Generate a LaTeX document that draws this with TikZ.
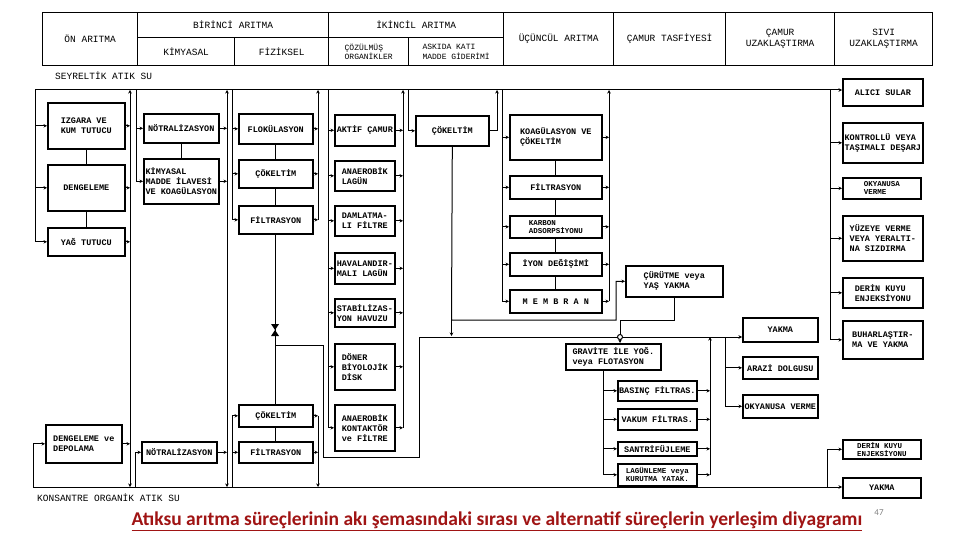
\documentclass[tikz,border=0pt]{standalone}
\usepackage{fontspec}
\setmonofont{Liberation Mono}
\newfontfamily\capfont{Carlito}
\usetikzlibrary{arrows.meta}
\definecolor{capred}{RGB}{160,20,20}
\tikzset{
 bxs/.style={draw, line width=1.6pt, inner sep=1pt, font=\ttfamily\bfseries\fontsize{8.5}{10}\selectfont, align=left},
 sm/.style={font=\ttfamily\bfseries\fontsize{7.5}{8.3}\selectfont},
 hcell/.style={line width=1.3pt, font=\ttfamily\fontsize{9.5}{11}\selectfont, align=center},
 hsub/.style={line width=1.3pt, font=\ttfamily\fontsize{8}{9.5}\selectfont, align=left},
 ln/.style={line width=1pt},
 arr/.style={ln, -{Stealth[length=3.5pt,width=3.5pt]}},
 darr/.style={ln, {Stealth[length=3.5pt,width=3.5pt]}-{Stealth[length=3.5pt,width=3.5pt]}},
 lbl/.style={font=\ttfamily\fontsize{9.5}{11}\selectfont, anchor=west, inner sep=0pt},
}
\newcommand\bx[7][]{\node[bxs,#1,minimum width={#5-#3},minimum height={#6-#4},anchor=north west] (#2) at (#3,#4) {#7};}
\begin{document}
\begin{tikzpicture}[x=1pt,y=-1pt]
\useasboundingbox[fill=white] (0,0) rectangle (960,540);
% ---------- header ----------
\bx[hcell]{h1}{42}{12}{137}{65}{ÖN ARITMA}
\bx[hcell]{h2}{137}{12}{328}{37}{BİRİNCİ ARITMA}
\bx[hcell]{h2a}{137}{37}{234}{65}{KİMYASAL}
\bx[hcell]{h2b}{234}{37}{328}{65}{FİZİKSEL}
\bx[hcell]{h3}{328}{12}{503}{37}{İKİNCİL ARITMA}
\bx[hsub]{h3a}{328}{37}{408}{65}{ÇÖZÜLMÜŞ\\ORGANİKLER}
\bx[hsub]{h3b}{408}{37}{503}{65}{ASKIDA KATI\\MADDE GİDERİMİ}
\bx[hcell]{h4}{503}{12}{613}{65}{ÜÇÜNCÜL ARITMA}
\bx[hcell]{h5}{613}{12}{725}{65}{ÇAMUR TASFİYESİ}
\bx[hcell]{h6}{725}{12}{834}{65}{ÇAMUR\\UZAKLAŞTIRMA}
\bx[hcell]{h7}{834}{12}{932}{65}{SIVI\\UZAKLAŞTIRMA}
\node[lbl] (seyr) at (55,76) {SEYRELTİK ATIK SU};
\node[lbl] (kons) at (37,498) {KONSANTRE ORGANİK ATIK SU};
% ---------- boxes ----------
\bx{izg}{47}{102}{124}{148}{IZGARA VE\\KUM TUTUCU}
\bx{den}{47}{164}{124}{210}{DENGELEME}
\bx{yag}{47}{227}{124}{255}{YAĞ TUTUCU}
\bx{depo}{45}{424}{121}{462}{DENGELEME ve\\DEPOLAMA}
\bx{not1}{143}{113}{218}{142}{NÖTRALİZASYON}
\bx{kim}{143}{158}{218}{203}{KİMYASAL\\MADDE İLAVESİ\\VE KOAGÜLASYON}
\bx{not2}{141}{441}{216}{462}{NÖTRALİZASYON}
\bx{flo}{238}{113}{312}{143}{FLOKÜLASYON}
\bx{cok1}{238}{159}{312}{187}{ÇÖKELTİM}
\bx{fil1}{238}{205}{312}{233}{FİLTRASYON}
\bx{cok2}{238}{404}{312}{426}{ÇÖKELTİM}
\bx{fil2}{238}{441}{312}{462}{FİLTRASYON}
\bx{akt}{334}{114}{394}{145}{AKTİF ÇAMUR}
\bx{anl}{334}{160}{394}{190}{ANAEROBİK\\LAGÜN}
\bx{dam}{334}{205}{394}{235}{DAMLATMA-\\LI FİLTRE}
\bx{hav}{334}{252}{394}{283}{HAVALANDIR-\\MALI LAGÜN}
\bx{sta}{334}{298}{394}{326}{STABİLİZAS-\\YON HAVUZU}
\bx{don}{334}{343}{394}{389}{DÖNER\\BİYOLOJİK\\DİSK}
\bx{ank}{334}{404}{394}{450}{ANAEROBİK\\KONTAKTÖR\\ve FİLTRE}
\bx{cok3}{415}{115}{488}{145}{ÇÖKELTİM}
\bx{koa}{509}{114}{601}{159}{KOAGÜLASYON VE\\ÇÖKELTİM}
\bx[sm]{kar}{509}{215}{601}{237}{KARBON\\ADSORPSİYONU}
\bx{fil3}{509}{175}{601}{198}{FİLTRASYON}
\bx{iyon}{509}{252}{601}{275}{İYON DEĞİŞİMİ}
\bx{mem}{509}{289}{601}{312}{M E M B R A N}
\bx{cur}{625}{265}{722}{296}{ÇÜRÜTME veya\\YAŞ YAKMA}
\bx{grav}{565}{343}{660}{369}{GRAVİTE İLE YOĞ.\\veya FLOTASYON}
\bx{bas}{617}{380}{696}{400}{BASINÇ FİLTRAS.}
\bx{vak}{617}{408}{696}{429}{VAKUM FİLTRAS.}
\bx{san}{617}{441}{696}{455}{SANTRİFÜJLEME}
\bx[sm]{lag}{617}{463}{696}{485}{LAGÜNLEME veya\\KURUTMA YATAK.}
\bx{yak1}{742}{317}{817}{341}{YAKMA}
\bx{arz}{742}{356}{817}{378}{ARAZİ DOLGUSU}
\bx{oky1}{742}{394}{817}{417}{OKYANUSA VERME}
\bx{ali}{842}{78}{922}{105}{ALICI SULAR}
\bx{kon}{842}{122}{922}{162}{KONTROLLÜ VEYA\\TAŞIMALI DEŞARJ}
\bx[sm]{oky2}{842}{177}{920}{198}{OKYANUSA\\VERME}
\bx{yuz}{842}{215}{922}{260}{YÜZEYE VERME\\VEYA YERALTI-\\NA SIZDIRMA}
\bx{der1}{842}{277}{922}{307}{DERİN KUYU\\ENJEKSİYONU}
\bx{buh}{842}{320}{922}{358}{BUHARLAŞTIR-\\MA VE YAKMA}
\bx[sm]{der2}{842}{439}{920}{458}{DERİN KUYU\\ENJEKSİYONU}
\bx{yak2}{842}{477}{920}{497}{YAKMA}
% ---------- main lines ----------
\coordinate (T0) at (35,90);
\coordinate (B0) at (33,487);
\draw[arr] (T0) -- (T0 -| ali.west);
\draw[arr] (B0) -- (B0 -| yak2.west);
\draw[arr] (B0) |- (depo.west);
% ON ARITMA
\draw[ln] (T0) -- (T0 |- yag.west);
\foreach \n in {izg,den,yag} \draw[arr] (T0 |- \n.west) -- (\n.west);
\draw[ln] (izg) -- (den);
\draw[ln] (den) -- (yag);
\coordinate (O1t) at (130,90); \coordinate (O1b) at (130,487);
\draw[darr] (O1t) -- (O1b);
\foreach \n in {izg,den,yag,depo} \draw[arr] (\n.east) -- (\n.east -| O1t);
% KIMYASAL
\coordinate (K1) at (136,90);
\draw[ln] (K1) -- (K1 |- kim.west);
\foreach \n in {not1,kim} \draw[arr] (K1 |- \n.west) -- (\n.west);
\coordinate (K2) at (135,487);
\draw[arr] (K2) |- (not2.west);
\coordinate (K3t) at (227,90); \coordinate (K3b) at (227,487);
\draw[darr] (K3t) -- (K3b);
\foreach \n in {not1,kim,not2} \draw[arr] (\n.east) -- (\n.east -| K3t);
\draw[ln] (not1) -- (kim);
% FIZIKSEL
\coordinate (F1) at (232,90);
\draw[ln] (F1) -- (F1 |- fil1.west);
\foreach \n in {flo,cok1,fil1} \draw[arr] (F1 |- \n.west) -- (\n.west);
\coordinate (F2) at (318,90);
\draw[arr] (F2 |- fil1.east) -- (F2);
\foreach \n in {flo,cok1,fil1} \draw[arr] (\n.east) -- (\n.east -| F2);
\draw[ln] (flo) -- (cok1);
\draw[ln] (cok1) -- (fil1);
\draw[ln] (fil1) -- (cok2);
\fill (271,324) -- (279,324) -- (275,330) -- cycle;
\fill (271,336) -- (279,336) -- (275,330) -- cycle;
\coordinate (F3) at (232,487);
\draw[ln] (F3) -- (F3 |- cok2.west);
\foreach \n in {cok2,fil2} \draw[arr] (F3 |- \n.west) -- (\n.west);
\coordinate (F4) at (318,487);
\draw[arr] (F4 |- cok2.east) -- (F4);
\foreach \n in {cok2,fil2} \draw[arr] (\n.east) -- (\n.east -| F4);
\draw[ln] (cok2) -- (fil2);
% sludge from physical
\coordinate (S1) at (275,345);
\coordinate (S2) at (419,337);
\draw[ln] (S1) -| (323,457) -| (S2);
\draw[arr] (S2) -- (S2 -| yak1.west);
% IKINCIL
\coordinate (I1) at (328,90);
\draw[ln] (I1) -- (I1 |- ank.west);
\foreach \n in {akt,anl,dam,hav,sta,don,ank} \draw[arr] (I1 |- \n.west) -- (\n.west);
\coordinate (I2) at (403,90);
\draw[arr] (I2 |- ank.east) -- (I2);
\foreach \n in {akt,anl,dam,hav,sta,don,ank} \draw[arr] (\n.east) -- (\n.east -| I2);
\coordinate (C1) at (408,90);
\draw[arr] (C1) |- (cok3.west);
\coordinate (C2) at (497,90);
\draw[arr] (cok3.east) -| (C2);
\coordinate (C3) at (451.5,320);
\draw[arr] (cok3.south) -- (C3) -| (616,0 |- cur.west) -- (cur.west);
\draw[arr] (C3) -- (451.5,336);
% UCUNCUL
\coordinate (U1) at (502,90);
\draw[ln] (U1) -- (U1 |- mem.west);
\foreach \n in {koa,fil3,kar,iyon,mem} \draw[arr] (U1 |- \n.west) -- (\n.west);
\coordinate (U2) at (609,90);
\draw[arr] (U2 |- mem.east) -- (U2);
\foreach \n in {koa,fil3,kar,iyon,mem} \draw[arr] (\n.east) -- (\n.east -| U2);
\draw[ln] (koa) -- (fil3);
\draw[ln] (fil3) -- (kar);
\draw[ln] (kar) -- (iyon);
\draw[ln] (iyon) -- (mem);
% CAMUR
\draw[arr] (cur.south) |- (620,320) -- (620,0 |- grav.north);
\draw[ln, fill=white] (620,337) circle (2.5);
\coordinate (D1) at (725,337);
\draw[arr] (D1) |- (arz.west);
\draw[arr] (D1) |- (oky1.west);
\coordinate (D2) at (710,337);
\draw[arr] (D2 |- lag.east) -- (D2);
\foreach \n in {bas,vak,san,lag} \draw[arr] (\n.east) -- (\n.east -| D2);
\coordinate (G1) at (603,0 |- grav.south);
\draw[ln] (G1) -- (G1 |- lag.west);
\foreach \n in {bas,vak,san,lag} \draw[arr] (G1 |- \n.west) -- (\n.west);
% SIVI
\coordinate (V1) at (830,90);
\draw[ln] (V1) -- (V1 |- buh.west);
\foreach \n in {kon,oky2,yuz,der1,buh} \draw[arr] (V1 |- \n.west) -- (\n.west);
\coordinate (V2) at (827,487);
\draw[arr] (V2) |- (der2.west);
% ---------- caption ----------
\node[font=\capfont\bfseries\fontsize{19.5}{22}\selectfont, text=capred, inner sep=0pt] (cap) at (497,521) {\underline{Atıksu arıtma süreçlerinin akı şemasındaki sırası ve alternatif süreçlerin yerleşim diyagramı}};
\node[font=\capfont\fontsize{9}{10}\selectfont, text=gray, inner sep=0pt] (pg) at (879,513) {47};
\end{tikzpicture}
\end{document}
